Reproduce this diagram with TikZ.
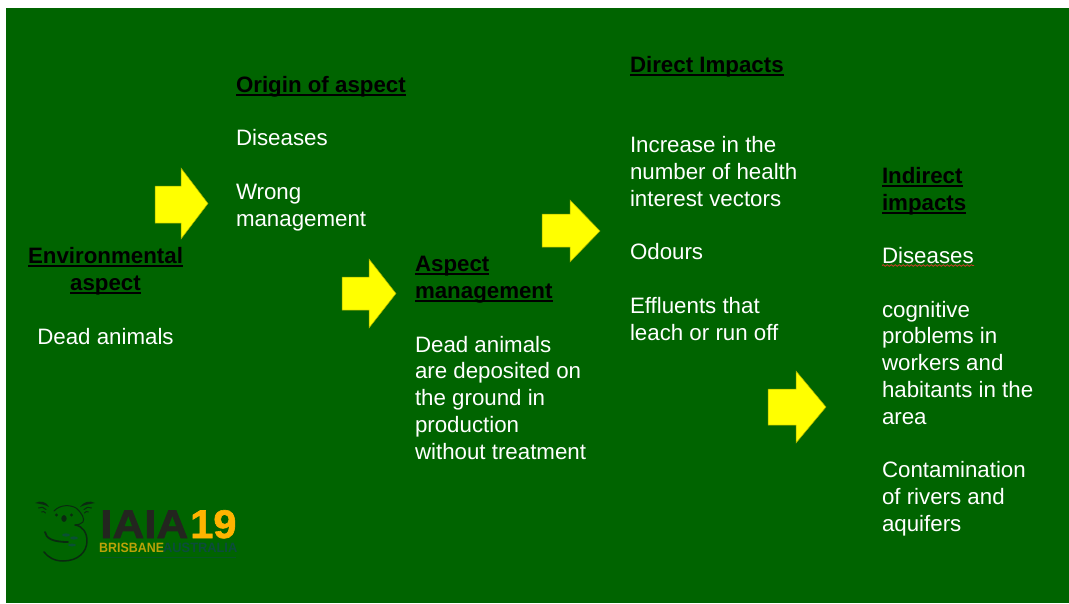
\documentclass[tikz,border=0pt]{standalone}
\usepackage{fontspec}
\setmainfont{Liberation Sans}
\newfontface\logoheavy{Liberation Sans Bold}[FakeBold=1.5]
\usetikzlibrary{decorations.pathmorphing}
\definecolor{slidegreen}{HTML}{006400}
\definecolor{arrowyellow}{HTML}{FFFF00}
\definecolor{logodark}{HTML}{23251F}
\definecolor{logoorange}{HTML}{FFB400}
\definecolor{logoolive}{HTML}{BBA208}
\definecolor{logoteal}{HTML}{0C4C3C}
\definecolor{koaladark}{HTML}{0A2A10}
\definecolor{squiggle}{HTML}{C8402A}
\newsavebox{\hdbox}
\newcommand{\hdline}[1]{\sbox{\hdbox}{\color{black}\bfseries #1}\rlap{\color{black}\rule[-3.6pt]{\wd\hdbox}{2pt}}\usebox{\hdbox}}
\newcommand{\blockarrow}[7]{% left, base, tip, tail top, tail bottom, top, bottom
  \path[bigarrow] (#1,#4) -- (#2,#4) -- (#2,#6) -- (#3,{(#6+#7)/2}) -- (#2,#7) -- (#2,#5) -- (#1,#5) -- cycle;}
\tikzset{
  blocktext/.style={inner sep=0pt,outer sep=0pt,text=white,font=\fontsize{22.3}{26.75}\selectfont,align=left,anchor=base west},
  bigarrow/.style={fill=arrowyellow,draw=arrowyellow!70!black!90!slidegreen,line width=0.5pt,line join=miter},
  koalaline/.style={draw=koaladark,line cap=round,line join=round},
  logotext/.style={inner sep=0pt,anchor=base west,transform shape},
}
\begin{document}
\begin{tikzpicture}[x=1pt,y=-1pt]
\useasboundingbox (0,0) rectangle (1069,603);
\fill[white] (0,0) rectangle (1069,603);
\fill[slidegreen] (6,8) rectangle (1069,603);

% text blocks: each placed by the baseline of its last line
\node[blocktext,align=center,anchor=base] (env) at (105.5,344) {\hdline{Environmental}\\\hdline{aspect}\\[26.75pt]Dead animals};
\node[blocktext] (origin) at (236,226) {\hdline{Origin of aspect}\\[26.75pt]Diseases\\[26.75pt]Wrong\\management};
\node[blocktext] (mgmt) at (415,459) {\hdline{Aspect}\\\hdline{management}\\[26.75pt]Dead animals\\are deposited on\\the ground in\\production\\without treatment};
\node[blocktext] (direct) at (630,340) {\hdline{Direct Impacts}\\[53.5pt]Increase in the\\number of health\\interest vectors\\[26.75pt]Odours\\[26.75pt]Effluents that\\leach or run off};
\node[blocktext] (indirect) at (882,531) {\hdline{Indirect}\\\hdline{impacts}\\[26.75pt]Diseases\\[26.75pt]cognitive\\problems in\\workers and\\habitants in the\\area\\[26.75pt]Contamination\\of rivers and\\aquifers};

% spelling squiggle
\draw[squiggle,line width=0.8pt,decorate,decoration={snake,amplitude=0.8pt,segment length=4pt}] (882,265.5) -- (974,265.5);

% block arrows
\blockarrow{155}{181}{208}{186}{223}{168}{239}
\blockarrow{342}{369}{396}{277}{310}{259}{328}
\blockarrow{542}{570}{600}{214}{247}{200}{262}
\blockarrow{768}{796}{826}{389}{425}{371}{443}

% logo: koala
\fill[koaladark] (35,503) .. controls (40,500) and (47,502) .. (49,507) .. controls (45,504.5) and (40,504) .. cycle;
\draw[koalaline,line width=1pt] (38.5,508) .. controls (41,506.5) and (44,507) .. (46,509.5);
\draw[koalaline,line width=0.9pt] (41.5,512) .. controls (43,511) and (44.5,511.5) .. (45.5,513);
\fill[koaladark] (95,503) .. controls (90,500) and (83,502) .. (80,507) .. controls (85,504.5) and (90,504) .. cycle;
\draw[koalaline,line width=1pt] (91.5,508) .. controls (89,506.5) and (86,507) .. (84,509.5);
\draw[koalaline,line width=0.9pt] (88.5,512) .. controls (87,511) and (85.5,511.5) .. (84.5,513);
\draw[koalaline,line width=1pt] (54,511) .. controls (60,504.5) and (70,504.5) .. (76,508) .. controls (82,513) and (85,519) .. (83,522) .. controls (81,524) and (78,525) .. (75,525);
\fill[koaladark] (56.5,515) circle (1.6) (71.5,515) circle (1.6);
\fill[koaladark] (64,518.5) ellipse (2.7 and 3.4);
\draw[koalaline,line width=1.5pt] (75,525) .. controls (83,526) and (87,533) .. (87,541) .. controls (87,552) and (78,561) .. (63,561) .. controls (54,561) and (48,557) .. (44,552);
\draw[koalaline,line width=1.8pt] (45,532) .. controls (46,538) and (52,542) .. (68,542);
\fill[logoteal!85!slidegreen] (66,535) ellipse (4 and 1.6) (74,538) ellipse (4 and 1.6) (72,545) ellipse (4 and 1.4);

% logo: wordmark
\node[logotext,text=logodark,font=\fontsize{40}{40}\logoheavy,xscale=1.1] (iaia) at (100,538) {IAIA};
\node[logotext,text=logoorange,font=\fontsize{40}{40}\logoheavy,xscale=1.04] (nineteen) at (190,538) {19};
\node[logotext,text=logoolive,font=\fontsize{13.5}{14}\selectfont\bfseries,xscale=0.92] (bris) at (99,552) {BRISBANE};
\node[logotext,text=logoteal,font=\fontsize{13.5}{14}\selectfont\bfseries,xscale=0.95] (aus) at (163,552) {AUSTRALIA};
\draw[logoteal!60!slidegreen,line width=0.8pt] (100,557.5) -- (236,557.5);
\end{tikzpicture}
\end{document}
